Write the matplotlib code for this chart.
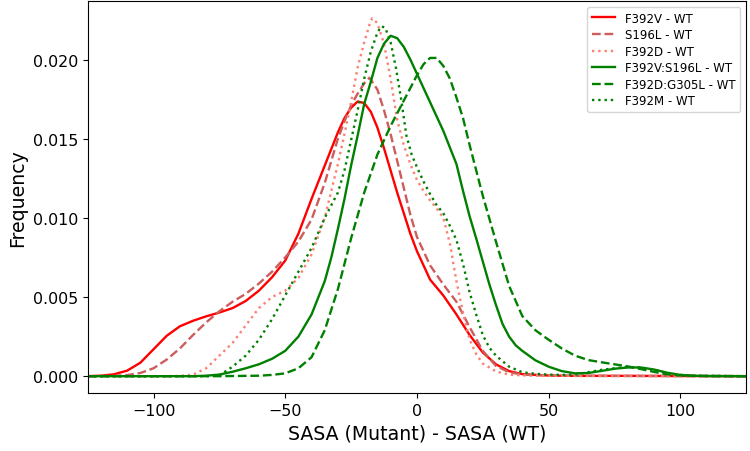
import numpy as np
import matplotlib
matplotlib.use("Agg")
import matplotlib.pyplot as plt

# ---- data (y in units of 1e-3) ----
f392v_x = [-125, -120, -115, -110, -105, -100, -95, -90, -85, -80, -75, -70, -65, -60, -55, -50,
           -45, -40, -35, -30, -27.5, -25, -22.5, -20, -17.5, -15, -12.5, -10, -7.5, -5, -2.5, 0,
           5, 10, 15, 20, 25, 30, 35, 40, 50, 60, 80, 100, 125]
f392v_y = [0, 0.03, 0.12, 0.35, 0.85, 1.7, 2.55, 3.15, 3.5, 3.78, 4.02, 4.3, 4.75, 5.4, 6.25, 7.3,
           9.0, 11.2, 13.3, 15.4, 16.3, 16.95, 17.35, 17.25, 16.7, 15.7, 14.4, 13.0, 11.6, 10.3, 9.0, 7.9,
           6.1, 5.1, 3.9, 2.6, 1.5, 0.75, 0.32, 0.13, 0.04, 0.02, 0.02, 0.01, 0]

s196l_x = [-125, -115, -110, -105, -100, -95, -90, -85, -80, -75, -70, -65, -60, -55, -50, -45,
           -40, -35, -30, -27.5, -25, -22.5, -20, -18, -15, -12.5, -10, -7.5, -5, -2.5, 0,
           5, 10, 15, 20, 25, 30, 35, 40, 50, 60, 125]
s196l_y = [0, 0.02, 0.07, 0.2, 0.5, 1.05, 1.75, 2.6, 3.4, 4.1, 4.7, 5.2, 5.85, 6.6, 7.5, 8.5,
           9.9, 12.2, 15.0, 16.1, 17.1, 17.85, 18.5, 18.85, 18.1, 16.8, 15.3, 13.6, 11.9, 10.2, 8.8,
           7.0, 5.8, 4.7, 3.1, 1.6, 0.65, 0.25, 0.1, 0.04, 0.02, 0]

f392d_x = [-125, -95, -90, -85, -80, -75, -70, -65, -60, -55, -50, -45, -40, -35, -32.5, -30,
           -27.5, -25, -22.5, -20, -18, -17, -15, -12.5, -10, -7.5, -5, -2.5, 0, 2.5, 5, 7.5,
           10, 12.5, 15, 17.5, 20, 22.5, 25, 30, 35, 40, 50, 125]
f392d_y = [0, 0, 0.02, 0.1, 0.5, 1.3, 2.1, 3.2, 4.3, 5.0, 5.4, 6.2, 7.7, 10.0, 11.7, 13.4,
           15.3, 17.3, 19.5, 21.1, 22.2, 22.6, 22.3, 21.0, 18.8, 16.2, 14.6, 13.4, 12.4, 11.7, 11.1, 10.6,
           10.0, 8.4, 6.0, 4.0, 2.3, 1.4, 0.8, 0.3, 0.1, 0.05, 0.02, 0]

f392v_s196l_x = [-125, -85, -80, -75, -70, -65, -60, -55, -50, -45, -40, -35, -32.5, -30, -27.5,
                 -25, -22.5, -20, -17.5, -15, -12.5, -10, -7.5, -5, -2.5, 0, 5, 10, 15, 17.5, 20,
                 22.5, 25, 27.5, 30, 32.5, 35, 37.5, 40, 45, 50, 55, 60, 65, 70, 75, 80, 85, 90,
                 95, 100, 105, 110, 125]
f392v_s196l_y = [0, 0, 0.03, 0.1, 0.28, 0.5, 0.75, 1.1, 1.6, 2.5, 3.9, 6.0, 7.5, 9.3, 11.2,
                 13.3, 15.2, 17.2, 18.6, 20.1, 21.0, 21.5, 21.35, 20.8, 20.0, 19.1, 17.3, 15.5, 13.4, 11.7, 10.1,
                 8.7, 7.25, 5.8, 4.5, 3.3, 2.5, 1.95, 1.6, 1.0, 0.6, 0.32, 0.18, 0.2, 0.33, 0.47, 0.55, 0.55, 0.42,
                 0.22, 0.08, 0.03, 0.01, 0]

f392d_g305l_x = [-125, -75, -60, -55, -50, -45, -40, -35, -30, -25, -20, -15, -10, -5, 0, 2.5,
                 5, 7.5, 10, 12.5, 15, 17.5, 20, 25, 30, 35, 40, 45, 50, 55, 60, 65, 70, 75, 80,
                 85, 90, 95, 100, 105, 125]
f392d_g305l_y = [0, 0, 0.03, 0.08, 0.18, 0.5, 1.2, 2.9, 5.5, 8.7, 11.6, 14.0, 15.8, 17.4, 19.0, 19.7,
                 20.1, 20.1, 19.6, 18.8, 17.6, 16.3, 14.6, 11.4, 8.5, 5.7, 3.8, 2.9, 2.3, 1.75, 1.3, 1.02, 0.88, 0.75, 0.62,
                 0.45, 0.27, 0.12, 0.05, 0.02, 0]

f392m_x = [-125, -80, -75, -70, -65, -60, -55, -50, -45, -40, -35, -30, -27.5, -25, -22.5, -20,
           -17.5, -15, -13.5, -12, -10, -8, -6, -4, -2, 0, 2.5, 5, 7.5, 10, 12.5, 15, 17.5, 20,
           22.5, 25, 27.5, 30, 35, 40, 45, 50, 55, 60, 65, 70, 75, 80, 85, 90, 95, 100, 105, 125]
f392m_y = [0, 0, 0.05, 0.6, 1.3, 2.3, 3.6, 5.1, 6.6, 8.1, 10.0, 11.6, 13.0, 14.9, 16.8, 18.8,
           20.5, 21.7, 22.1, 22.0, 21.1, 19.5, 17.5, 15.2, 14.0, 13.2, 12.3, 11.5, 10.8, 10.3, 9.5, 8.6, 7.1, 5.3,
           3.9, 2.6, 1.8, 1.3, 0.6, 0.25, 0.15, 0.1, 0.08, 0.1, 0.25, 0.4, 0.5, 0.58, 0.55, 0.4, 0.2, 0.08, 0.02, 0]

labels = ["F392V - WT", "S196L - WT", "F392D - WT",
          "F392V:S196L - WT", "F392D:G305L - WT", "F392M - WT"]
colors = ["red", "indianred", "salmon", "green", "green", "green"]
styles = ["-", "--", ":", "-", "--", ":"]

xticks = [-100, -50, 0, 50, 100]
yticks = [0.0, 0.005, 0.010, 0.015, 0.020]

series = [(f392v_x, f392v_y), (s196l_x, s196l_y), (f392d_x, f392d_y),
          (f392v_s196l_x, f392v_s196l_y), (f392d_g305l_x, f392d_g305l_y), (f392m_x, f392m_y)]

fig = plt.figure(figsize=(7.5, 4.52), dpi=100)
ax = fig.add_axes([0.1169, 0.1277, 0.878, 0.868])

for (xs, ys), lab, c, ls in zip(series, labels, colors, styles):
    ax.plot(xs, np.array(ys) * 1e-3, color=c, linestyle=ls, linewidth=1.7, label=lab)

ax.set_xlim(-125, 125)
ax.set_ylim(-0.00108, 0.0237)
ax.set_xticks(xticks)
ax.set_yticks(yticks)
ax.tick_params(labelsize=11.4)
ax.set_xlabel("SASA (Mutant) - SASA (WT)", fontsize=13.6)
ax.set_ylabel("Frequency", fontsize=13.6)
ax.legend(loc="upper right", fontsize=8.5, labelspacing=0.3)

fig.savefig("out.png", dpi=100)
